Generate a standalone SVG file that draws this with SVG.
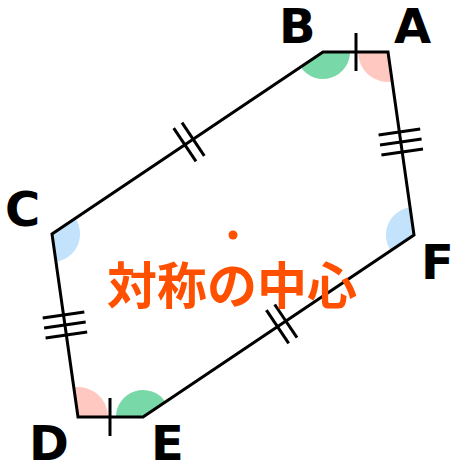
<svg xmlns="http://www.w3.org/2000/svg" width="452" height="464" viewBox="0 0 452 464">
<style>
.edge{fill:none;stroke:#000;stroke-width:3;stroke-linejoin:miter}
.tick{stroke:#000;stroke-width:3;fill:none}
.pink{fill:#FFC9C1}
.green{fill:#78D8A8}
.blue{fill:#C2E3FB}
.lbl{font-family:"DejaVu Sans","Liberation Sans",sans-serif;font-weight:bold;font-size:48px;fill:#000}
.ctr{font-family:"Noto Sans CJK JP","Noto Sans CJK SC",sans-serif;font-weight:bold;font-size:50px;fill:#FF5000}
</style>
<rect width="452" height="464" fill="#fff"/>
<g id="angles">
<path class="pink" d="M388,52 L358,52 A30,30 0 0 0 392.2,81.7 Z"/>
<path class="green" d="M323,52 L350,52 A27,27 0 0 1 300.6,67.1 Z"/>
<path class="blue" d="M52,234 L75.3,218.4 A28,28 0 0 1 55.9,261.7 Z"/>
<path class="pink" d="M78,417 L73.8,387.3 A30,30 0 0 1 108,417 Z"/>
<path class="green" d="M143,417 L116,417 A27,27 0 0 1 165.4,401.9 Z"/>
<path class="blue" d="M414,235 L390.7,250.6 A28,28 0 0 1 410.1,207.3 Z"/>
</g>
<g id="connectors">
<path class="edge" d="M388,52 L323,52 L52,234 L78,417 L143,417 L414,235 Z"/>
<line class="tick" x1="356" y1="33" x2="356" y2="71"/>
<line class="tick" x1="110" y1="398" x2="110" y2="436"/>
<line class="tick" x1="173.7" y1="128.2" x2="196" y2="161.4"/>
<line class="tick" x1="182" y1="122.6" x2="204.3" y2="155.8"/>
<line class="tick" x1="266.4" y1="310.1" x2="288.7" y2="343.3"/>
<line class="tick" x1="274.7" y1="304.5" x2="297" y2="337.7"/>
<line class="tick" x1="378.6" y1="135" x2="420.2" y2="129"/>
<line class="tick" x1="380" y1="145" x2="421.6" y2="139"/>
<line class="tick" x1="381.4" y1="155" x2="423" y2="149"/>
<line class="tick" x1="42.7" y1="318" x2="84.3" y2="312"/>
<line class="tick" x1="44.1" y1="328" x2="85.7" y2="322"/>
<line class="tick" x1="45.6" y1="338" x2="87.2" y2="332"/>
</g>
<g id="A"><text class="lbl" x="394" y="43">A</text></g>
<g id="B"><text class="lbl" x="279" y="43">B</text></g>
<g id="C"><text class="lbl" x="5" y="226">C</text></g>
<g id="D"><text class="lbl" x="29" y="460">D</text></g>
<g id="E"><text class="lbl" x="151" y="460">E</text></g>
<g id="F"><text class="lbl" x="421" y="279">F</text></g>
<g id="center">
<circle cx="233" cy="235" r="4.5" fill="#FF5000"/>
<text class="ctr" x="232" y="304" text-anchor="middle">対称の中心</text>
</g>
</svg>
